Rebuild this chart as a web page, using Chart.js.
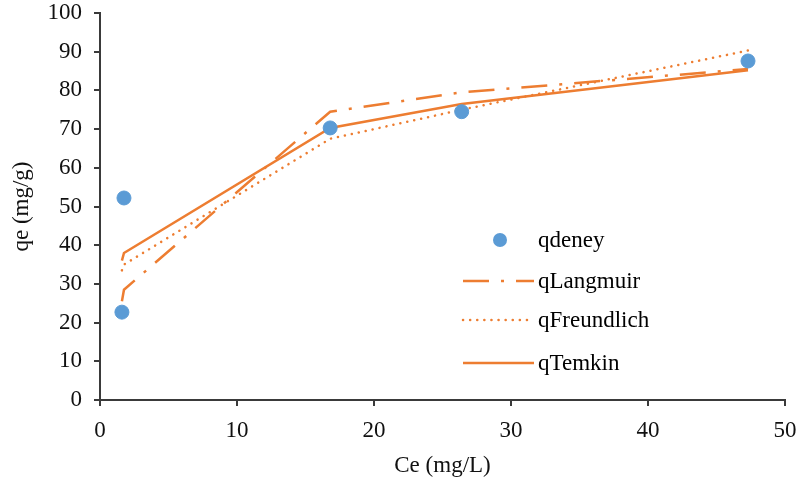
<!DOCTYPE html>
<html><head><meta charset="utf-8">
<script src="https://cdn.jsdelivr.net/npm/chart.js@4"></script>
<style>
html,body{margin:0;padding:0;background:#fff;}
#wrap{position:relative;width:802px;height:481px;}
#legend{position:absolute;left:460px;top:225px;font-family:"Liberation Serif","Times New Roman",serif;font-size:23px;color:#000;}
.row{position:absolute;left:0;height:30px;width:220px;}
.row canvas{position:absolute;left:0;top:0;}
.row span{position:absolute;left:78px;top:0;line-height:30px;white-space:nowrap;}
</style></head>
<body><div id="wrap"><canvas id="c" width="802" height="481"></canvas>
<div id="legend"></div></div>
<script>
const ce = [1.6, 1.75, 16.8, 26.4, 47.3];
const qDeney = [22.7, 52.2, 70.3, 74.5, 87.6];
const qLangmuir = [25.5, 28.5, 74.5, 79.5, 85.5];
const qFreundlich = [33.5, 35.0, 67.5, 75.0, 90.3];
const qTemkin = [36.0, 38.0, 70.3, 76.5, 85.2];
const xTicks = [0, 10, 20, 30, 40, 50];
const yTicks = [0, 10, 20, 30, 40, 50, 60, 70, 80, 90, 100];
const names = ['qdeney', 'qLangmuir', 'qFreundlich', 'qTemkin'];

const BLUE = '#5B9BD5', ORANGE = '#ED7D31', AXIS = '#3a3a3a';
const pts = arr => ce.map((x, i) => ({x: x, y: arr[i]}));
const FONT = '"Liberation Serif", "Times New Roman", serif';

const lineStyles = [
  null,
  {dash: [26, 12, 3, 12], cap: 'butt'},
  {dash: [0.1, 7], cap: 'round'},
  {dash: [], cap: 'butt'}
];

new Chart(document.getElementById('c'), {
  type: 'scatter',
  data: {
    datasets: [
      {label: names[0], data: pts(qDeney), backgroundColor: BLUE, borderColor: BLUE, pointRadius: 7, showLine: false, order: 0},
      {label: names[1], data: pts(qLangmuir), borderColor: ORANGE, borderWidth: 2.5, borderDash: lineStyles[1].dash, borderCapStyle: 'butt', pointRadius: 0, showLine: true, order: 1},
      {label: names[2], data: pts(qFreundlich), borderColor: ORANGE, borderWidth: 2.5, borderDash: lineStyles[2].dash, borderCapStyle: 'round', pointRadius: 0, showLine: true, order: 2},
      {label: names[3], data: pts(qTemkin), borderColor: ORANGE, borderWidth: 2.5, borderCapStyle: 'butt', pointRadius: 0, showLine: true, order: 3}
    ]
  },
  options: {
    responsive: false,
    animation: false,
    layout: {padding: {top: 13, right: 17, left: 0, bottom: 0}},
    plugins: {legend: {display: false}, tooltip: {enabled: false}},
    scales: {
      x: {
        type: 'linear', min: 0, max: 50,
        afterBuildTicks: s => { s.ticks = xTicks.map(v => ({value: v})); },
        afterFit: s => { s.height = 81; s.paddingLeft = 0; s.paddingRight = 0; },
        grid: {drawOnChartArea: false, drawTicks: true, tickLength: 6, color: AXIS, lineWidth: 2},
        border: {display: true, color: AXIS, width: 2},
        ticks: {color: '#111', font: {family: FONT, size: 23}, padding: 11},
        title: {display: true, text: 'Ce (mg/L)', color: '#111', font: {family: FONT, size: 23}, padding: {top: 0, bottom: 1}}
      },
      y: {
        type: 'linear', min: 0, max: 100,
        afterBuildTicks: s => { s.ticks = yTicks.map(v => ({value: v})); },
        afterFit: s => { s.width = 100; s.paddingTop = 0; s.paddingBottom = 0; },
        grid: {drawOnChartArea: false, drawTicks: true, tickLength: 6, color: AXIS, lineWidth: 2},
        border: {display: true, color: AXIS, width: 2},
        ticks: {color: '#111', font: {family: FONT, size: 23}, padding: 12},
        title: {display: true, text: 'qe (mg/g)', color: '#111', font: {family: FONT, size: 23}, padding: {top: 8, bottom: 0}}
      }
    }
  }
});

// HTML legend
const leg = document.getElementById('legend');
const tops = [0, 41, 80, 123];
names.forEach((n, i) => {
  const row = document.createElement('div');
  row.className = 'row';
  row.style.top = tops[i] + 'px';
  const cv = document.createElement('canvas');
  cv.width = 76; cv.height = 30;
  const g = cv.getContext('2d');
  if (i === 0) {
    g.fillStyle = BLUE;
    g.beginPath(); g.arc(40, 15, 7, 0, Math.PI * 2); g.fill();
  } else {
    g.strokeStyle = ORANGE; g.lineWidth = 2.5;
    g.setLineDash(lineStyles[i].dash); g.lineCap = lineStyles[i].cap;
    g.beginPath(); g.moveTo(3, 15); g.lineTo(74, 15); g.stroke();
  }
  const sp = document.createElement('span');
  sp.textContent = n;
  row.appendChild(cv); row.appendChild(sp);
  leg.appendChild(row);
});
</script>
</body></html>
